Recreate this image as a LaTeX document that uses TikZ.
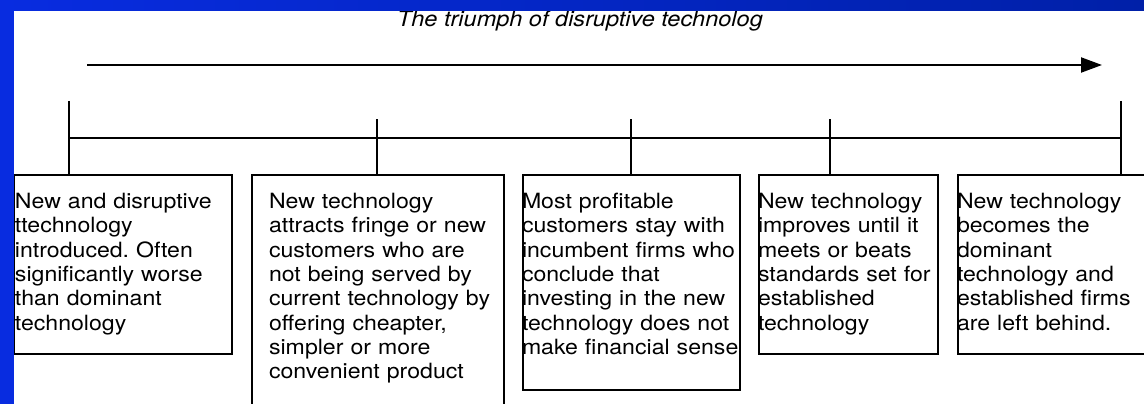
\documentclass[tikz,border=0pt]{standalone}
\usepackage{fontspec}
\setmainfont[FakeStretch = 1.1]{TeX Gyre Heros}
\usetikzlibrary{arrows.meta}
\frenchspacing
\definecolor{frameblue}{RGB}{8,44,224}
\definecolor{framedark}{RGB}{0,32,168}
\tikzset{timeline/.style = {line width = 2pt, -{Triangle[length = 21pt, width = 15pt]}}}
\tikzset{stage/.style = {draw, line width = 1.6pt, anchor = north west, inner sep = 0}}
\tikzset{stagetext/.style = {anchor = base west, align = left, text width = 240pt,
                             inner sep = 0, font = \fontsize{21}{24.3}\selectfont}}
\begin{document}
\begin{tikzpicture}[x = 1pt, y = -1pt, line width = 2pt]
    \useasboundingbox (0, 0) rectangle (1144, 404);
    \fill [white] (0, 0) rectangle (1144, 404);

    \node [anchor = base west, inner sep = 0, font = \fontsize{21.4}{24}\selectfont\itshape] (title) at (396, 27) {The triumph of disruptive technolog};

    \coordinate (start) at (87, 65);
    \coordinate (goal) at (1102, 65);
    \draw [timeline] (start) -- (goal);

    \coordinate (bar west) at (69, 138);
    \coordinate (bar east) at (1121, 138);
    \draw (bar west) -- (bar east);

    \coordinate (tick1) at (69, 101);
    \coordinate (tick2) at (377, 119);
    \coordinate (tick3) at (631, 119);
    \coordinate (tick4) at (830, 119);
    \coordinate (tick5) at (1121, 101);

    \node [stage, minimum width = 218pt, minimum height = 179pt] (box1) at (13, 174) {};
    \node [stage, minimum width = 252pt, minimum height = 260pt] (box2) at (251, 174) {};
    \node [stage, minimum width = 217pt, minimum height = 215pt] (box3) at (522, 174) {};
    \node [stage, minimum width = 179pt, minimum height = 179pt] (box4) at (758, 174) {};
    \node [stage, minimum width = 220pt, minimum height = 179pt] (box5) at (957, 174) {};

    \foreach \i in {1, ..., 5}
        \draw (tick\i) -- (box\i.north -| tick\i);

    \node [stagetext] (text1) at ([xshift = 1pt, yshift = -34.5pt] box1.north west) {New and disruptive\\ ttechnology\\ introduced. Often\\ significantly worse\\ than dominant\\ technology};
    \node [stagetext] (text2) at ([xshift = 17pt, yshift = -34.5pt] box2.north west) {New technology\\ attracts fringe or new\\ customers who are\\ not being served by\\ current technology by\\ offering cheapter,\\ simpler or more\\ convenient product};
    \node [stagetext] (text3) at ([xshift = -1pt, yshift = -34.5pt] box3.north west) {Most profitable\\ customers stay with\\ incumbent firms who\\ conclude that\\ investing in the new\\ technology does not\\ make financial sense};
    \node [stagetext] (text4) at ([xshift = -1pt, yshift = -34.5pt] box4.north west) {New technology\\ improves until it\\ meets or beats\\ standards set for\\ established\\ technology};
    \node [stagetext] (text5) at ([xshift = -1pt, yshift = -34.5pt] box5.north west) {New technology\\ becomes the\\ dominant\\ technology and\\ established firms\\ are left behind.};

    \shade [left color = frameblue, right color = framedark] (0, 0) rectangle (1144, 11);
    \fill [frameblue] (0, 0) rectangle (14, 404);
\end{tikzpicture}
\end{document}
